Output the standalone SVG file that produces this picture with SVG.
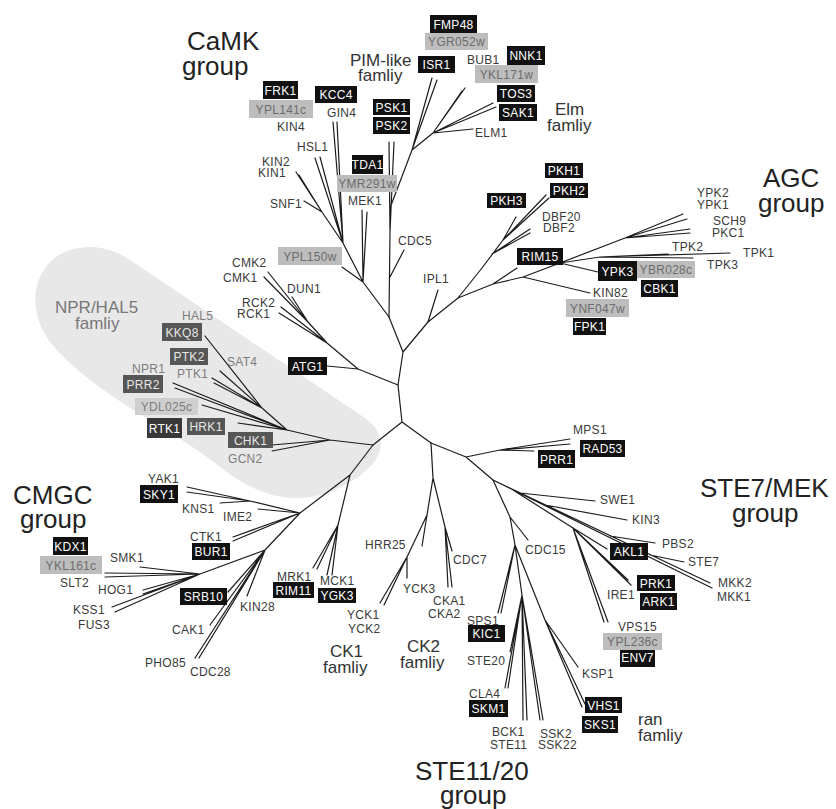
<svg xmlns="http://www.w3.org/2000/svg" width="836" height="809" viewBox="0 0 836 809">
<style>
text{font-family:"Liberation Sans",Arial,Helvetica,sans-serif}
.t{font-size:12px;fill:#3a3a3a;letter-spacing:0.3px}
.c{text-anchor:middle}
.w{fill:#fff}
.g{fill:#6c6c6c}
.n{fill:#7c7c7c}
.nw{fill:#e6e6e6}
.bb{fill:#111}
.gb{fill:#bdbdbd}
.lb{fill:#cfcfcf}
.db{fill:#565656}
.rb{fill:#383838}
.big{font-size:26px;fill:#222}
.mid{font-size:17px;fill:#333}
.edges path{fill:none;stroke:#1c1c1c;stroke-width:1.2;stroke-linecap:round;stroke-linejoin:round}
</style>
<rect width="836" height="809" fill="#fff"/>
<path id="npr-area" d="M130,260 L365,418 C395,440 382,470 330,492 C292,506 255,496 215,463 C170,428 90,392 50,342 C24,306 34,262 70,250 C95,243 113,249 130,260 Z" fill="#e8e8e8"/>
<g class="edges" id="connectors">
<path d="M403,352 L398,385 L402,422 M403,352 L389,317 M403,352 L428,322 M402,422 L373,445 M402,422 L431,443"/>
<path d="M389,317 L390,232 M390,232 L389,142 M390,232 L394,142 M390,277 L404,250 M390,208 L412,150 L433,133 M412,150 L432,78 M412,150 L437,80 M433,133 L462,91 M433,133 L465,88 M433,133 L493,103 M433,133 L496,107 M433,133 L473,129"/>
<path d="M389,317 L363,282 M363,282 L342,267 M363,282 L362,210 M363,282 L367,212 M363,282 L343,243 M343,243 L333,122 M343,243 L337,122 M343,243 L315,158 M343,243 L320,157 M343,243 L322,212 M322,212 L304,201 M322,212 L296,172 M322,212 L299,175"/>
<path d="M398,385 L358,369 M358,369 L327,366 M358,369 L327,343 M327,343 L281,307 M327,343 L279,313 M327,343 L308,322 M308,322 L292,297 M308,322 L268,272 M308,322 L264,277"/>
<path d="M428,322 L438,290 M428,322 L458,298 M458,298 L482,268 L503,240 M503,240 L546,195 M503,240 L549,198 M503,240 L516,217 M492,254 L530,229 M492,254 L530,233 M458,298 L493,284 L523,277 M493,284 L517,268 M523,277 L590,293 M523,277 L560,263 M560,263 L598,272 M560,263 L600,257 M600,257 L730,253 M600,257 L693,258 M600,257 L668,254 M560,263 L625,238 M625,238 L683,214 M625,238 L687,219 M625,238 L690,229 M625,238 L690,233"/>
<path d="M373,445 L330,440 M330,440 L272,445 M330,440 L272,451 M330,440 L287,430 M287,430 L238,423 M287,430 L202,405 M287,430 L173,383 M287,430 L175,388 M287,430 L262,408 M262,408 L205,336 M262,408 L220,371 M262,408 L212,378 M262,408 L214,383"/>
<path d="M373,445 L350,475 M350,475 L338,525 M338,525 L313,568 M338,525 L317,569 M338,525 L327,575 M338,525 L332,575 M350,475 L300,513 M300,513 L250,501 L187,487 M250,501 L187,492 M250,501 L220,503 M300,513 L258,509 M300,513 L233,537 M300,513 L233,541 M300,513 L265,550 M265,550 L228,592 M265,550 L247,596 M265,550 L210,625 M265,550 L195,658 M265,550 L199,658 M265,550 L200,574 M200,574 L105,573 M200,574 L105,577 M200,574 L140,567 M200,574 L143,590 M200,574 L143,594 M200,574 L112,607 M200,574 L115,612"/>
<path d="M431,443 L433,478 M433,478 L427,515 M427,515 L422,546 M427,515 L407,557 M407,557 L380,603 M407,557 L384,605 M407,557 L407,578 M433,478 L445,527 M445,527 L448,587 M445,527 L452,587 M445,527 L452,551"/>
<path d="M431,443 L466,457 M466,457 L500,450 M500,450 L570,439 M500,450 L570,444 M500,450 L534,451 M466,457 L493,480 M493,480 L710,583 M493,480 L712,588 M520,493 L595,501 M545,505 L627,520 M610,536 L655,543 M650,555 L684,562 M513,490 L573,528 M573,528 L607,549 M573,528 L628,580 M573,528 L631,585 M573,528 L604,622 M573,528 L608,622"/>
<path d="M493,480 L510,517 M510,517 L528,540 M510,517 L515,545 M515,545 L498,613 M515,545 L501,613 M515,545 L522,595 M522,595 L510,652 M522,595 L505,688 M522,595 L508,688 M522,595 L523,720 M522,595 L527,720 M522,595 L540,720 M522,595 L543,720 M515,545 L545,620 M545,620 L578,667 M545,620 L582,707 M545,620 L585,704"/>
</g>
<g id="groups">
<text class="big" x="187" y="50">CaMK</text><text class="big" x="182" y="75">group</text>
<text class="big" x="763" y="187">AGC</text><text class="big" x="758" y="212">group</text>
<text class="big" x="13" y="504">CMGC</text><text class="big" x="20" y="528">group</text>
<text class="big" x="700" y="497">STE7/MEK</text><text class="big" x="732" y="522">group</text>
<text class="big" x="415" y="780">STE11/20</text><text class="big" x="440" y="804">group</text>
<text class="mid" x="350" y="66">PIM-like</text><text class="mid" x="358" y="81">famliy</text>
<text class="mid" x="555" y="115">Elm</text><text class="mid" x="547" y="131">famliy</text>
<text class="mid" x="55" y="313" style="fill:#777">NPR/HAL5</text><text class="mid" x="75" y="329" style="fill:#777">famliy</text>
<text class="mid" x="330" y="657">CK1</text><text class="mid" x="323" y="673">famliy</text>
<text class="mid" x="407" y="652">CK2</text><text class="mid" x="400" y="668">famliy</text>
<text class="mid" x="638" y="725">ran</text><text class="mid" x="638" y="741">famliy</text>
</g>
<g id="boxed">
<g id="FRK1"><rect class="bb" x="263" y="81" width="35" height="18"/><text class="t c w" x="280.5" y="94.5">FRK1</text></g>
<g id="KCC4"><rect class="bb" x="315" y="86" width="42" height="17"/><text class="t c w" x="336" y="99">KCC4</text></g>
<g id="PSK1"><rect class="bb" x="373" y="99" width="37" height="16"/><text class="t c w" x="391.5" y="111.5">PSK1</text></g>
<g id="PSK2"><rect class="bb" x="373" y="117" width="37" height="17"/><text class="t c w" x="391.5" y="130">PSK2</text></g>
<g id="TDA1"><rect class="bb" x="352" y="155" width="31" height="19"/><text class="t c w" x="367.5" y="169">TDA1</text></g>
<g id="FMP48"><rect class="bb" x="430" y="15" width="47" height="18"/><text class="t c w" x="453.5" y="28.5">FMP48</text></g>
<g id="ISR1"><rect class="bb" x="418" y="56" width="37" height="17"/><text class="t c w" x="436.5" y="69">ISR1</text></g>
<g id="NNK1"><rect class="bb" x="507" y="46" width="38" height="19"/><text class="t c w" x="526" y="60">NNK1</text></g>
<g id="TOS3"><rect class="bb" x="497" y="85" width="38" height="17"/><text class="t c w" x="516" y="98">TOS3</text></g>
<g id="SAK1"><rect class="bb" x="499" y="104" width="38" height="17"/><text class="t c w" x="518" y="117">SAK1</text></g>
<g id="PKH1"><rect class="bb" x="545" y="163" width="38" height="15"/><text class="t c w" x="564" y="175">PKH1</text></g>
<g id="PKH2"><rect class="bb" x="550" y="183" width="38" height="15"/><text class="t c w" x="569" y="195">PKH2</text></g>
<g id="PKH3"><rect class="bb" x="487" y="193" width="39" height="15"/><text class="t c w" x="506.5" y="205">PKH3</text></g>
<g id="RIM15"><rect class="bb" x="517" y="248" width="46" height="17"/><text class="t c w" x="540" y="261">RIM15</text></g>
<g id="YPK3"><rect class="bb" x="598" y="261" width="39" height="20"/><text class="t c w" x="617.5" y="275.5">YPK3</text></g>
<g id="CBK1"><rect class="bb" x="641" y="280" width="37" height="17"/><text class="t c w" x="659.5" y="293">CBK1</text></g>
<g id="FPK1"><rect class="bb" x="573" y="318" width="33" height="17"/><text class="t c w" x="589.5" y="331">FPK1</text></g>
<g id="ATG1"><rect class="bb" x="288" y="357" width="39" height="18"/><text class="t c w" x="307.5" y="370.5">ATG1</text></g>
<g id="SKY1"><rect class="bb" x="140" y="485" width="38" height="18"/><text class="t c w" x="159" y="498.5">SKY1</text></g>
<g id="BUR1"><rect class="bb" x="192" y="543" width="38" height="17"/><text class="t c w" x="211" y="556">BUR1</text></g>
<g id="KDX1"><rect class="bb" x="53" y="537" width="35" height="18"/><text class="t c w" x="70.5" y="550.5">KDX1</text></g>
<g id="SRB10"><rect class="bb" x="180" y="588" width="47" height="17"/><text class="t c w" x="203.5" y="601">SRB10</text></g>
<g id="RIM11"><rect class="bb" x="273" y="582" width="41" height="16"/><text class="t c w" x="293.5" y="594.5">RIM11</text></g>
<g id="YGK3"><rect class="bb" x="318" y="588" width="38" height="15"/><text class="t c w" x="337" y="600">YGK3</text></g>
<g id="KIC1"><rect class="bb" x="468" y="625" width="37" height="17"/><text class="t c w" x="486.5" y="638">KIC1</text></g>
<g id="SKM1"><rect class="bb" x="469" y="700" width="39" height="17"/><text class="t c w" x="488.5" y="713">SKM1</text></g>
<g id="VHS1"><rect class="bb" x="585" y="697" width="37" height="16"/><text class="t c w" x="603.5" y="709.5">VHS1</text></g>
<g id="SKS1"><rect class="bb" x="582" y="716" width="36" height="17"/><text class="t c w" x="600" y="729">SKS1</text></g>
<g id="ENV7"><rect class="bb" x="620" y="648" width="35" height="19"/><text class="t c w" x="637.5" y="662">ENV7</text></g>
<g id="PRK1"><rect class="bb" x="637" y="575" width="38" height="16"/><text class="t c w" x="656" y="587.5">PRK1</text></g>
<g id="ARK1"><rect class="bb" x="640" y="593" width="37" height="17"/><text class="t c w" x="658.5" y="606">ARK1</text></g>
<g id="AKL1"><rect class="bb" x="610" y="543" width="38" height="17"/><text class="t c w" x="629" y="556">AKL1</text></g>
<g id="RAD53"><rect class="bb" x="580" y="440" width="45" height="17"/><text class="t c w" x="602.5" y="453">RAD53</text></g>
<g id="PRR1"><rect class="bb" x="538" y="450" width="37" height="18"/><text class="t c w" x="556.5" y="463.5">PRR1</text></g>
<g id="YPL141c"><rect class="gb" x="249" y="100" width="64" height="18"/><text class="t c g" x="281" y="113.5">YPL141c</text></g>
<g id="YMR291w"><rect class="gb" x="337" y="175" width="60" height="17"/><text class="t c g" x="367" y="188">YMR291w</text></g>
<g id="YGR052w"><rect class="gb" x="425" y="33" width="63" height="17"/><text class="t c g" x="456.5" y="46">YGR052w</text></g>
<g id="YKL171w"><rect class="gb" x="475" y="65" width="63" height="18"/><text class="t c g" x="506.5" y="78.5">YKL171w</text></g>
<g id="YBR028c"><rect class="gb" x="637" y="261" width="58" height="17"/><text class="t c g" x="666" y="274">YBR028c</text></g>
<g id="YNF047w"><rect class="gb" x="566" y="299" width="63" height="18"/><text class="t c g" x="597.5" y="312.5">YNF047w</text></g>
<g id="YPL150w"><rect class="gb" x="278" y="247" width="64" height="18"/><text class="t c g" x="310" y="260.5">YPL150w</text></g>
<g id="YDL025c"><rect class="lb" x="135" y="398" width="63" height="17"/><text class="t c n" x="166.5" y="411">YDL025c</text></g>
<g id="YKL161c"><rect class="gb" x="40" y="556" width="62" height="18"/><text class="t c g" x="71" y="569.5">YKL161c</text></g>
<g id="YPL236c"><rect class="gb" x="603" y="633" width="59" height="17"/><text class="t c g" x="632.5" y="646">YPL236c</text></g>
<g id="KKQ8"><rect class="db" x="162" y="323" width="40" height="18"/><text class="t c nw" x="182" y="336.5">KKQ8</text></g>
<g id="PTK2"><rect class="db" x="170" y="348" width="38" height="17"/><text class="t c nw" x="189" y="361">PTK2</text></g>
<g id="PRR2"><rect class="db" x="123" y="375" width="40" height="18"/><text class="t c nw" x="143" y="388.5">PRR2</text></g>
<g id="RTK1"><rect class="rb" x="147" y="418" width="35" height="20"/><text class="t c w" x="164.5" y="432.5">RTK1</text></g>
<g id="HRK1"><rect class="db" x="187" y="418" width="38" height="17"/><text class="t c nw" x="206" y="431">HRK1</text></g>
<g id="CHK1"><rect class="db" x="228" y="432" width="45" height="16"/><text class="t c nw" x="250.5" y="444.5">CHK1</text></g>
</g>
<g id="plain">
<text class="t" x="277" y="131">KIN4</text>
<text class="t" x="327" y="117">GIN4</text>
<text class="t" x="297" y="151">HSL1</text>
<text class="t" x="262" y="166">KIN2</text>
<text class="t" x="258" y="177">KIN1</text>
<text class="t" x="270" y="208">SNF1</text>
<text class="t" x="348" y="205">MEK1</text>
<text class="t" x="467" y="64">BUB1</text>
<text class="t" x="475" y="137">ELM1</text>
<text class="t" x="542" y="221">DBF20</text>
<text class="t" x="543" y="232">DBF2</text>
<text class="t" x="697" y="197">YPK2</text>
<text class="t" x="697" y="209">YPK1</text>
<text class="t" x="713" y="225">SCH9</text>
<text class="t" x="712" y="237">PKC1</text>
<text class="t" x="672" y="251">TPK2</text>
<text class="t" x="743" y="257">TPK1</text>
<text class="t" x="707" y="269">TPK3</text>
<text class="t" x="593" y="297">KIN82</text>
<text class="t" x="398" y="245">CDC5</text>
<text class="t" x="423" y="283">IPL1</text>
<text class="t" x="232" y="267">CMK2</text>
<text class="t" x="223" y="282">CMK1</text>
<text class="t" x="287" y="293">DUN1</text>
<text class="t" x="242" y="307">RCK2</text>
<text class="t" x="237" y="318">RCK1</text>
<text class="t n" x="182" y="320">HAL5</text>
<text class="t n" x="227" y="366">SAT4</text>
<text class="t n" x="132" y="373">NPR1</text>
<text class="t n" x="177" y="378">PTK1</text>
<text class="t n" x="228" y="463">GCN2</text>
<text class="t" x="148" y="483">YAK1</text>
<text class="t" x="182" y="513">KNS1</text>
<text class="t" x="223" y="521">IME2</text>
<text class="t" x="190" y="541">CTK1</text>
<text class="t" x="110" y="562">SMK1</text>
<text class="t" x="60" y="587">SLT2</text>
<text class="t" x="98" y="594">HOG1</text>
<text class="t" x="73" y="614">KSS1</text>
<text class="t" x="78" y="629">FUS3</text>
<text class="t" x="240" y="611">KIN28</text>
<text class="t" x="172" y="634">CAK1</text>
<text class="t" x="145" y="667">PHO85</text>
<text class="t" x="190" y="676">CDC28</text>
<text class="t" x="277" y="581">MRK1</text>
<text class="t" x="320" y="585">MCK1</text>
<text class="t" x="347" y="619">YCK1</text>
<text class="t" x="348" y="633">YCK2</text>
<text class="t" x="365" y="549">HRR25</text>
<text class="t" x="403" y="593">YCK3</text>
<text class="t" x="453" y="564">CDC7</text>
<text class="t" x="433" y="605">CKA1</text>
<text class="t" x="428" y="618">CKA2</text>
<text class="t" x="467" y="625">SPS1</text>
<text class="t" x="467" y="665">STE20</text>
<text class="t" x="469" y="698">CLA4</text>
<text class="t" x="492" y="736">BCK1</text>
<text class="t" x="490" y="749">STE11</text>
<text class="t" x="540" y="738">SSK2</text>
<text class="t" x="538" y="749">SSK22</text>
<text class="t" x="582" y="678">KSP1</text>
<text class="t" x="618" y="631">VPS15</text>
<text class="t" x="607" y="599">IRE1</text>
<text class="t" x="662" y="548">PBS2</text>
<text class="t" x="688" y="566">STE7</text>
<text class="t" x="718" y="587">MKK2</text>
<text class="t" x="717" y="601">MKK1</text>
<text class="t" x="600" y="504">SWE1</text>
<text class="t" x="632" y="524">KIN3</text>
<text class="t" x="525" y="554">CDC15</text>
<text class="t" x="573" y="434">MPS1</text>
</g>
</svg>
